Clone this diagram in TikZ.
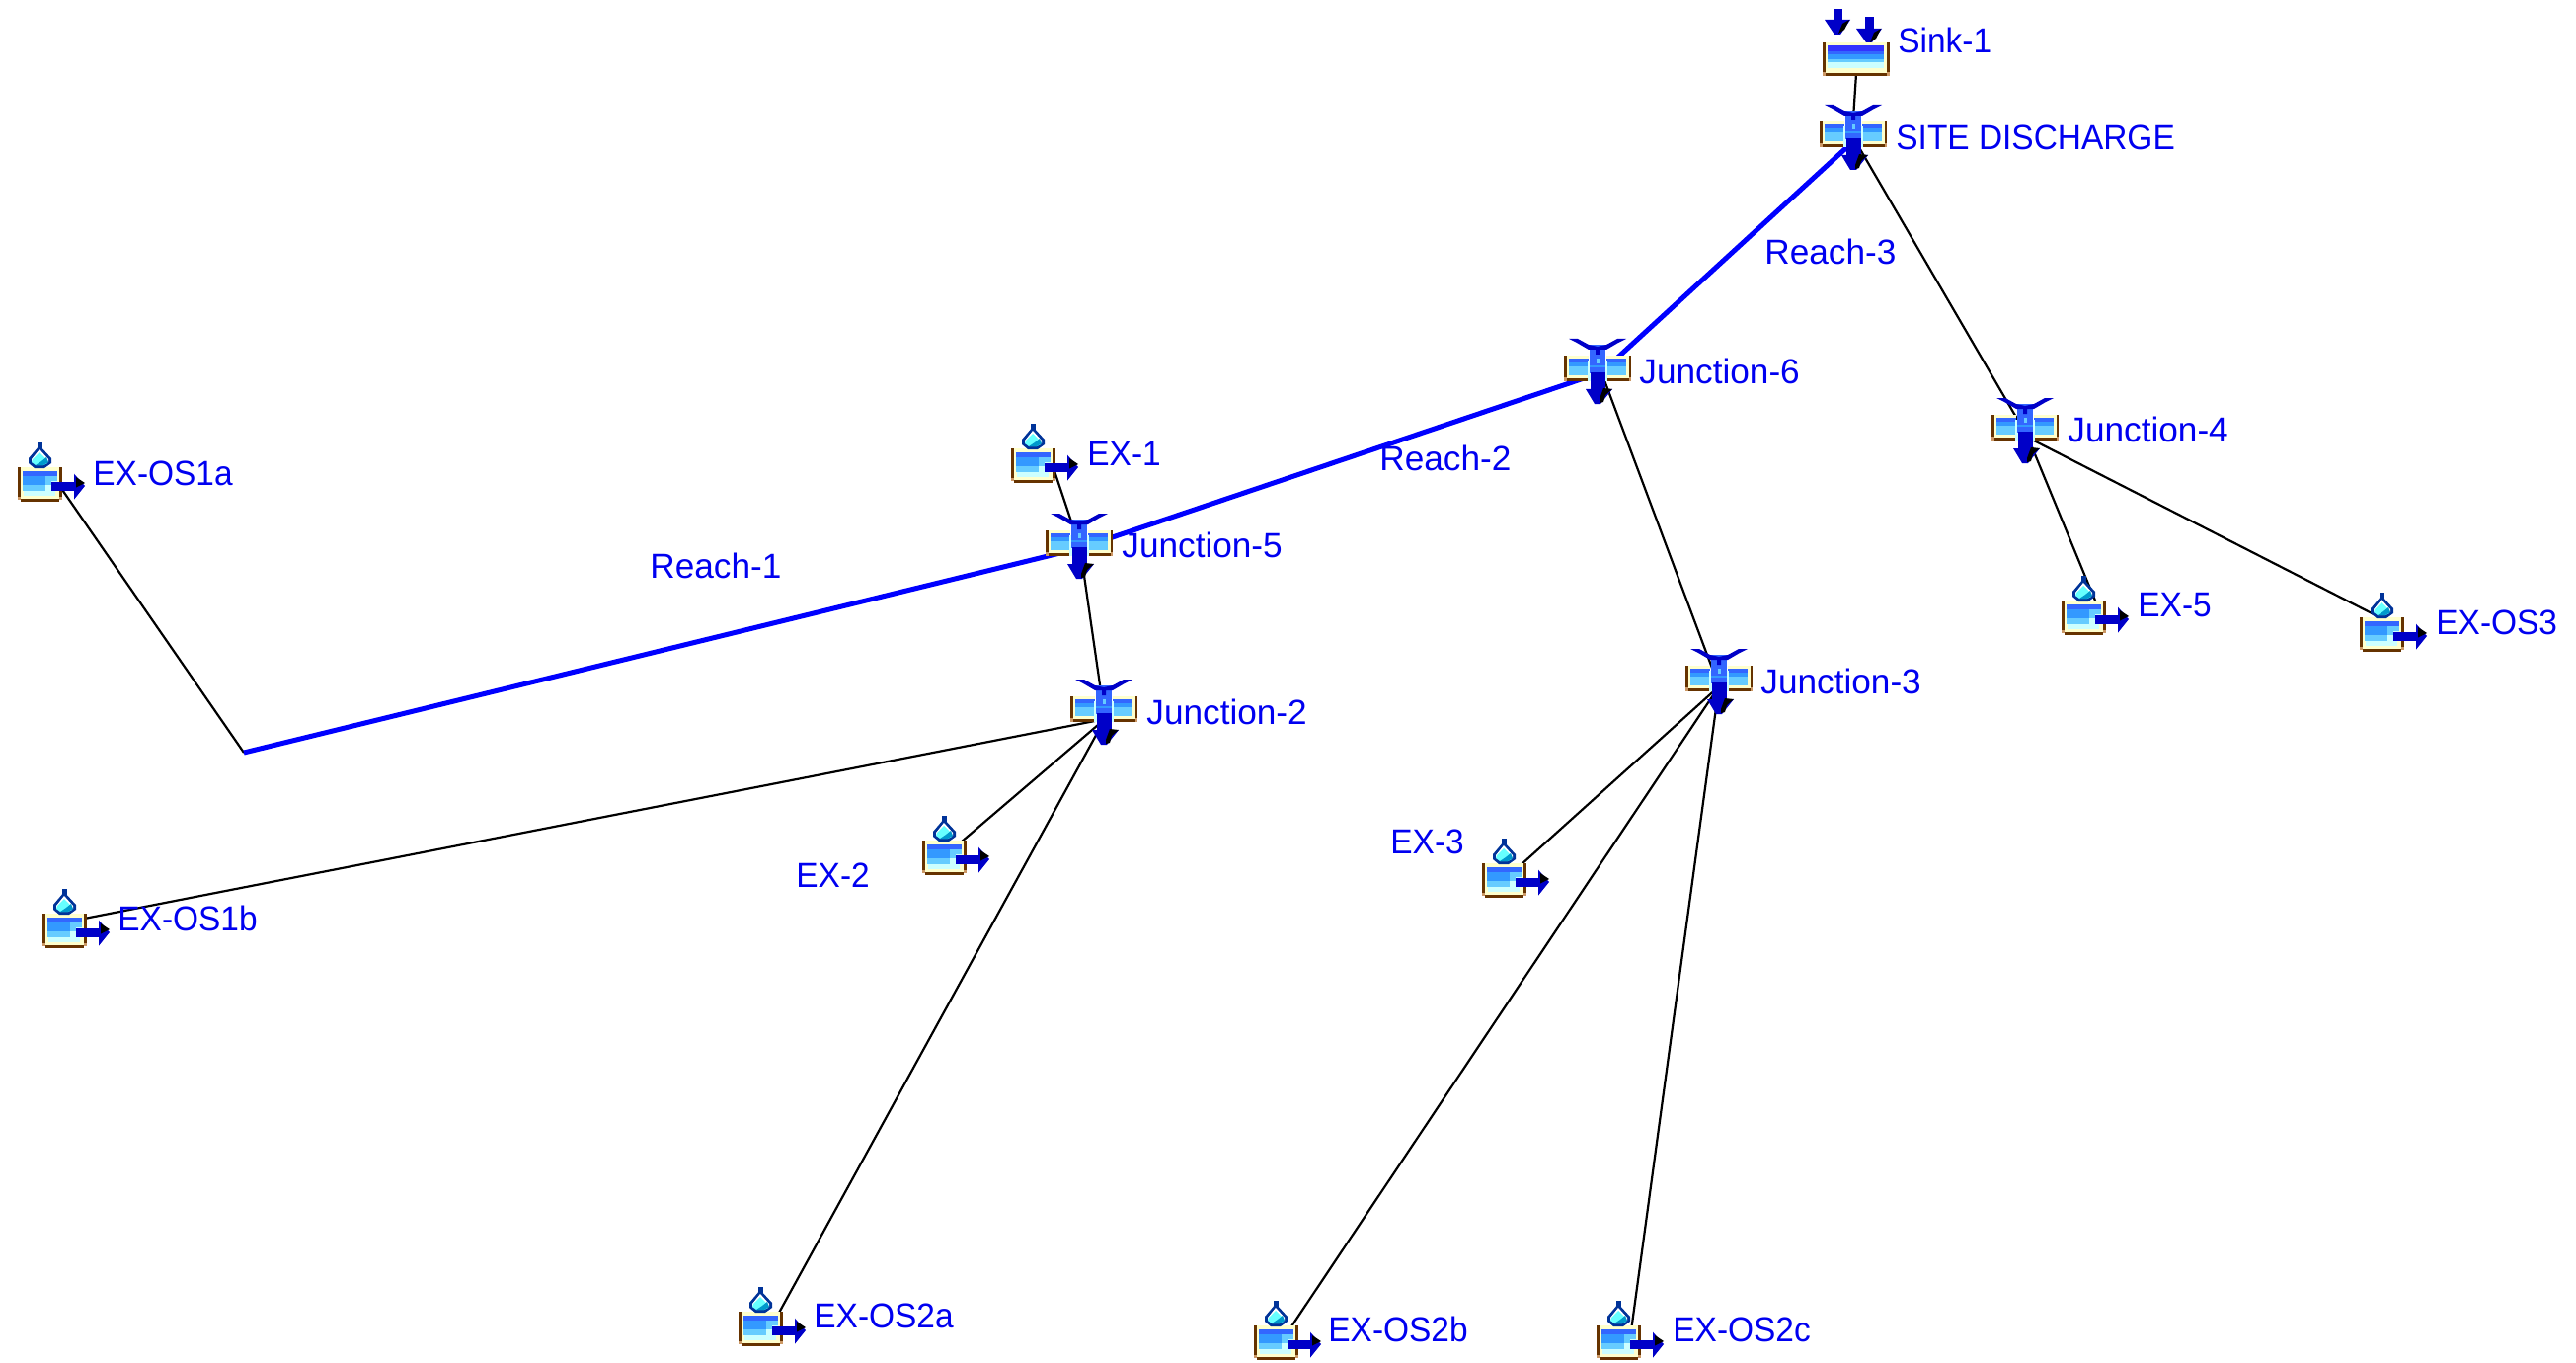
\documentclass[tikz,border=0pt]{standalone}
\usepackage{fontspec}
\setmainfont{Liberation Sans}
\newfontfamily\narrowf[FakeStretch=0.95]{Liberation Sans}
\definecolor{labelblue}{HTML}{0000F0}
\definecolor{reachblue}{HTML}{0000FF}
\definecolor{darkarrow}{HTML}{0000C8}
\definecolor{wallbrown}{HTML}{663300}
\definecolor{walltan}{HTML}{CC9966}
\definecolor{cream}{HTML}{FFFFCC}
\definecolor{wA}{HTML}{3366FF}
\definecolor{wB}{HTML}{3399FF}
\definecolor{wC}{HTML}{66CCFF}
\definecolor{wD}{HTML}{CCFFFF}
\definecolor{wTop}{HTML}{3333FF}
\definecolor{dropline}{HTML}{003399}
\definecolor{dropcyan}{HTML}{66FFFF}
\definecolor{dropdeep}{HTML}{0099CC}
\tikzset{
  lbl/.style={anchor=base west,inner sep=0pt,text=labelblue,font=\fontsize{17.6}{20}\selectfont\narrowf},
  lblj/.style={anchor=base west,inner sep=0pt,text=labelblue,font=\fontsize{17.6}{20}\selectfont},
  link/.style={draw=black,line width=1.1pt},
  reach/.style={draw=reachblue,line width=2.5pt},
  pics/source/.style={code={
    % basin
    \fill[walltan] (0,29) rectangle (45,33);
    \fill[wallbrown] (0,0) rectangle (2.6,30);
    \fill[wallbrown] (42.4,0) rectangle (45,30);
    \fill[wallbrown] (2.6,32) rectangle (42.4,35);
    \fill[cream] (2.6,0) rectangle (42.4,32);
    \fill[wD] (6,24) rectangle (38,29);
    \fill[wD] (28,9) rectangle (40,24);
    \fill[wC] (5,18) rectangle (28,24);
    \fill[wC] (28,9) rectangle (40,14);
    \fill[wC] (28,14) rectangle (34,18);
    \fill[wB] (5,9) rectangle (28,18);
    \fill[wA] (5,3.5) rectangle (40,9);
    % drop
    \fill[dropline] (19.5,-25) rectangle (24.5,-19);
    \fill[dropline] (22,-22) -- (34,-9) -- (34,-4) -- (27,1) -- (17,1) -- (11,-4) -- (11,-9) -- cycle;
    \fill[white] (22,-18) -- (31,-8) -- (31,-5) -- (14,-5) -- (14,-8) -- cycle;
    \fill[dropcyan] (22,-15) -- (29,-8) -- (30,-4) -- (26,-2) -- (18,-2) -- (14,-5) -- (15,-8) -- cycle;
    \fill[dropdeep] (29,-10) -- (31,-5) -- (26,-2) -- (18,-2) -- (24,-6) -- cycle;
    % outflow arrow
    \fill[darkarrow] (34,14.5) rectangle (58,23.5);
    \fill[darkarrow] (57,6.7) -- (68,19) -- (57,32.7) -- cycle;
    \fill[black] (59,10) -- (68,16) -- (59,20.5) -- cycle;
  }},
  pics/junction/.style={code={
    % basins either side of the column
    \fill[wallbrown] (-34,0) rectangle (-31.5,23);
    \fill[wallbrown] (31.5,0) rectangle (34,23);
    \fill[walltan] (-34,22) rectangle (-9,26);
    \fill[walltan] (9,22) rectangle (34,26);
    \fill[wallbrown] (-31.5,23) rectangle (-9,26);
    \fill[wallbrown] (9,23) rectangle (31.5,26);
    \fill[cream] (-31.5,0) rectangle (-9,23);
    \fill[cream] (9,0) rectangle (31.5,23);
    \fill[wA] (-29,3) rectangle (-9,7);
    \fill[wA] (9,3) rectangle (29,7);
    \fill[wB] (-29,7) rectangle (-9,11);
    \fill[wB] (9,7) rectangle (29,11);
    \fill[wC] (-29,11) rectangle (-9,20);
    \fill[wC] (9,11) rectangle (29,20);
    % column
    \fill[wD] (-10,5) rectangle (10,26);
    \fill[wA] (-8,-11) rectangle (8,18);
    \fill[wC] (-1.5,3) rectangle (1.5,8);
    \fill[wB] (-8,10) rectangle (8,12);
    % wings
    \fill[darkarrow] (-29,-17) -- (-20,-17) -- (-9,-11) -- (0,-9) -- (9,-11) -- (20,-17) -- (29,-17)
      -- (21,-13) -- (9,-6) -- (2,-6) -- (2,-1) -- (-2,-1) -- (-2,-6) -- (-9,-6) -- (-21,-13) -- cycle;
    % outflow arrow
    \fill[darkarrow] (-7.5,17) rectangle (7.5,36);
    \fill[darkarrow] (-12,34) -- (15,34) -- (3,49) -- (-3,49) -- cycle;
    \fill[black] (2,44) -- (6,33) -- (15,34) -- (8,40) -- (6,47) -- (2,48) -- cycle;
  }},
  pics/sink/.style={code={
    \fill[walltan] (0,30) rectangle (68,34);
    \fill[wallbrown] (0,0) rectangle (2.6,30);
    \fill[wallbrown] (65.4,0) rectangle (68,30);
    \fill[wallbrown] (2.6,31) rectangle (65.4,34);
    \fill[cream] (2.6,0) rectangle (65.4,31);
    \fill[wD] (5,20) rectangle (62,26);
    \fill[wC] (5,17) rectangle (62,20);
    \fill[wB] (5,12) rectangle (62,17);
    \fill[wA] (5,9) rectangle (62,12);
    \fill[wTop] (5,3) rectangle (62,9);
    \fill[darkarrow] (10.5,-34) rectangle (19.5,-23);
    \fill[darkarrow] (2,-23) -- (28,-23) -- (18,-8) -- (12,-8) -- cycle;
    \fill[black] (16,-9) -- (20,-19) -- (27,-23) -- (22,-13) -- cycle;
    \fill[darkarrow] (42.5,-26) rectangle (51.5,-14);
    \fill[darkarrow] (34,-14) -- (60,-14) -- (50,0) -- (44,0) -- cycle;
    \fill[black] (48,0) -- (52,-10) -- (59,-14) -- (54,-4) -- cycle;
  }}
}
\begin{document}
\begin{tikzpicture}[x=0.5pt,y=-0.5pt]
\fill[white] (0,0) rectangle (2609,1380);
\useasboundingbox (0,0) rectangle (2609,1380);
% connection points
\coordinate (cSink) at (1882,45);
\coordinate (cSite) at (1881,146);
\coordinate (cSiteUp) at (1877,120);
\coordinate (cSiteR) at (1874,146);
\coordinate (cJ6) at (1622,377);
\coordinate (cJ4) at (2054,443);
\coordinate (cJ5) at (1094,555);
\coordinate (cJ2) at (1119,728);
\coordinate (cJ3) at (1741,695);
\coordinate (cBend) at (247,762);
\coordinate (cOSa) at (59,490);
\coordinate (cOSb) at (70,933);
\coordinate (cEXa) at (1066,471);
\coordinate (cEXb) at (960,864);
\coordinate (cEXc) at (1530,885);
\coordinate (cEXe) at (2122,608);
\coordinate (cOSthree) at (2410,625);
\coordinate (cOStwoA) at (783,1340);
\coordinate (cOStwoB) at (1300,1355);
\coordinate (cOStwoC) at (1651,1355);
% connectors
\draw[link] (cSink) -- (cSiteUp);
\draw[link] (cSite) -- (cJ4);
\draw[link] (cJ4) -- (cEXe);
\draw[link] (cJ4) -- (cOSthree);
\draw[link] (cJ6) -- (cJ3);
\draw[link] (cJ3) -- (cEXc);
\draw[link] (cJ3) -- (cOStwoB);
\draw[link] (cJ3) -- (cOStwoC);
\draw[link] (cEXa) -- (cJ5);
\draw[link] (cJ5) -- (cJ2);
\draw[link] (cJ2) -- (cOSb);
\draw[link] (cJ2) -- (cEXb);
\draw[link] (cJ2) -- (cOStwoA);
\draw[link] (cOSa) -- (cBend);
\draw[reach] (cBend) -- (cJ5);
\draw[reach] (cJ5) -- (cJ6);
\draw[reach] (cJ6) -- (cSiteR);
% icons
\pic at (1846,43) {sink};
\pic at (1877,123) {junction};
\pic at (1618,360) {junction};
\pic at (2051,420) {junction};
\pic at (1093,537) {junction};
\pic at (1118,705) {junction};
\pic at (1741,674) {junction};
\pic at (18,473) {source};
\pic at (1024,454) {source};
\pic at (43,925) {source};
\pic at (934,851) {source};
\pic at (1501,874) {source};
\pic at (2088,608) {source};
\pic at (2390,625) {source};
\pic at (748,1328) {source};
\pic at (1270,1342) {source};
\pic at (1617,1342) {source};
% labels
\node[lbl] (lSink) at (1922,54) {Sink-1};
\node[lbl] (lSite) at (1920,152) {SITE DISCHARGE};
\node[lblj] (lR3) at (1787,268) {Reach-3};
\node[lblj] (lJ6) at (1660,388) {Junction-6};
\node[lblj] (lJ4) at (2094,447) {Junction-4};
\node[lblj] (lR2) at (1397,476) {Reach-2};
\node[lbl] (lEX1) at (1101,471) {EX-1};
\node[lbl] (lOS1a) at (94,491) {EX-OS1a};
\node[lblj] (lJ5) at (1136,564) {Junction-5};
\node[lblj] (lR1) at (658,585) {Reach-1};
\node[lblj] (lJ2) at (1161,733) {Junction-2};
\node[lbl] (lEX5) at (2165,624) {EX-5};
\node[lbl] (lOS3) at (2467,642) {EX-OS3};
\node[lblj] (lJ3) at (1783,702) {Junction-3};
\node[lbl] (lEX3) at (1408,864) {EX-3};
\node[lbl] (lEX2) at (806,898) {EX-2};
\node[lbl] (lOS1b) at (119,942) {EX-OS1b};
\node[lbl] (lOS2a) at (824,1344) {EX-OS2a};
\node[lbl] (lOS2b) at (1345,1358) {EX-OS2b};
\node[lbl] (lOS2c) at (1694,1358) {EX-OS2c};
\end{tikzpicture}
\end{document}
